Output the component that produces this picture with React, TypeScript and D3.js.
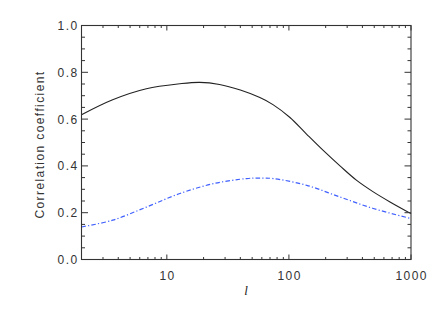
import React from "react";
import * as d3 from "d3";

const ellSolid = [2, 3.6, 6.8, 12.8, 18.6, 27, 40, 57.8, 74, 102, 140, 191, 262, 359, 491, 673, 1000];
const corrSolid = [0.619, 0.683, 0.73, 0.751, 0.757, 0.748, 0.724, 0.692, 0.662, 0.607, 0.535, 0.466, 0.4, 0.338, 0.289, 0.246, 0.196];

const ellDash = [2, 3.6, 6.8, 12.8, 24, 45, 57, 74, 140, 262, 491, 1000];
const corrDash = [0.139, 0.168, 0.224, 0.282, 0.324, 0.346, 0.348, 0.346, 0.317, 0.267, 0.218, 0.175];

const xMajor = [10, 100, 1000];
const xMajorLabels = ["10", "100", "1000"];
const yMajor = [0, 0.2, 0.4, 0.6, 0.8, 1.0];
const yMajorLabels = ["0.0", "0.2", "0.4", "0.6", "0.8", "1.0"];

export default function App() {
  const W = 436, H = 312;
  const left = 81.5, right = 411, top = 25.5, bottom = 259.5;
  const x = d3.scaleLog().domain([2, 1000]).range([left, right]);
  const y = d3.scaleLinear().domain([0, 1]).range([bottom, top]);

  const xMinor: number[] = [];
  for (const dec of [1, 10, 100]) {
    for (let k = 2; k <= 9; k++) {
      const v = k * dec;
      if (v >= 2 && v <= 1000 && v !== 10 && v !== 100) xMinor.push(v);
    }
  }
  const yMinor = d3.range(0, 21).map((i) => i * 0.05).filter((v) => Math.abs(v * 5 - Math.round(v * 5)) > 1e-6);

  const lineS = d3.line<number>().x((_, i) => x(ellSolid[i])).y((d) => y(d)).curve(d3.curveCatmullRom.alpha(0.5));
  const lineD = d3.line<number>().x((_, i) => x(ellDash[i])).y((d) => y(d)).curve(d3.curveCatmullRom.alpha(0.5));

  const axisColor = "#333";
  const font = "'Liberation Sans', Arial, sans-serif";

  return (
    <svg width={W} height={H} style={{ position: "absolute", left: 0, top: 0, background: "#fff" }}>
      <rect x={0} y={0} width={W} height={H} fill="#fff" />
      <path d={lineS(corrSolid) || ""} fill="none" stroke="#222" strokeWidth={1.1} />
      <path d={lineD(corrDash) || ""} fill="none" stroke="#4060ff" strokeWidth={1.2} strokeDasharray="4.5,2.2,1.2,2.2" />
      <rect x={left} y={top} width={right - left} height={bottom - top} fill="none" stroke={axisColor} strokeWidth={1.1} />
      {xMajor.map((v) => (
        <g key={"xm" + v}>
          <line x1={x(v)} x2={x(v)} y1={bottom} y2={bottom - 5} stroke={axisColor} />
          <line x1={x(v)} x2={x(v)} y1={top} y2={top + 5} stroke={axisColor} />
        </g>
      ))}
      {xMinor.map((v) => (
        <g key={"xn" + v}>
          <line x1={x(v)} x2={x(v)} y1={bottom} y2={bottom - 2.5} stroke={axisColor} />
          <line x1={x(v)} x2={x(v)} y1={top} y2={top + 2.5} stroke={axisColor} />
        </g>
      ))}
      {yMajor.map((v) => (
        <g key={"ym" + v}>
          <line x1={left} x2={left + 6.5} y1={y(v)} y2={y(v)} stroke={axisColor} />
          <line x1={right} x2={right - 6.5} y1={y(v)} y2={y(v)} stroke={axisColor} />
        </g>
      ))}
      {yMinor.map((v) => (
        <g key={"yn" + v}>
          <line x1={left} x2={left + 3.5} y1={y(v)} y2={y(v)} stroke={axisColor} />
          <line x1={right} x2={right - 3.5} y1={y(v)} y2={y(v)} stroke={axisColor} />
        </g>
      ))}
      {yMajor.map((v, i) => (
        <text key={"yl" + v} x={78.5} y={y(v) + 4.5} textAnchor="end" fontFamily={font} fontSize={12} letterSpacing={1.4} fill="#333">
          {yMajorLabels[i]}
        </text>
      ))}
      {xMajor.map((v, i) => (
        <text key={"xl" + v} x={x(v) + 0.7} y={280} textAnchor="middle" fontFamily={font} fontSize={12} letterSpacing={1.4} fill="#333">
          {xMajorLabels[i]}
        </text>
      ))}
      <text x={246} y={295} textAnchor="middle" fontFamily="'Liberation Serif', serif" fontStyle="italic" fontSize={13} fill="#222">
        l
      </text>
      <text transform={`translate(43.5,${(top + bottom) / 2 + 2}) rotate(-90)`} textAnchor="middle" fontFamily={font} fontSize={12} letterSpacing={1.4} fill="#333">
        Correlation coefficient
      </text>
    </svg>
  );
}
